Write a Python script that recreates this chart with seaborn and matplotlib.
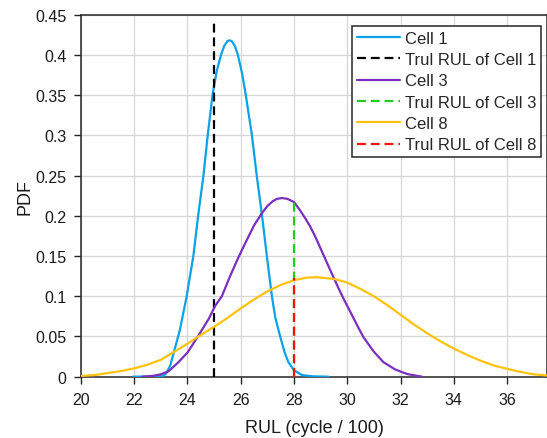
import numpy as np
import pandas as pd
import matplotlib
matplotlib.use("Agg")
import matplotlib.pyplot as plt
import seaborn as sns

# ---- data ----
cell1_x = [21.95, 22.5, 23.0, 23.1, 23.2, 23.35, 23.51, 23.72, 23.97, 24.22, 24.4, 24.6, 24.76,
           24.94, 25.1, 25.26, 25.38, 25.5, 25.58, 25.66, 25.78, 25.89, 26.05, 26.19, 26.42, 26.6, 26.8,
           26.98, 27.17, 27.3, 27.48, 27.65, 27.79, 28.0, 28.3, 28.7, 29.3]
cell1_y = [0.0, 0.0003, 0.0006, 0.001, 0.004, 0.0137, 0.033, 0.059, 0.10, 0.15, 0.20, 0.25, 0.30,
           0.35, 0.38, 0.40, 0.411, 0.417, 0.418, 0.417, 0.411, 0.40, 0.377, 0.35, 0.30, 0.25, 0.20,
           0.15, 0.10, 0.073, 0.05, 0.030, 0.018, 0.008, 0.002, 0.0005, 0.0]

cell3_x = [22.3, 22.7, 23.0, 23.3, 23.66, 24.0, 24.41, 24.8, 25.04, 25.29, 25.6, 25.91, 26.2,
           26.5, 26.79, 27.0, 27.2, 27.36, 27.55, 27.75, 28.0, 28.2, 28.42, 28.6, 28.8, 29.11, 29.3,
           29.49, 29.67, 29.86, 30.2, 30.4, 30.61, 31.0, 31.36, 31.8, 32.24, 32.8]
cell3_y = [0.0, 0.001, 0.003, 0.007, 0.018, 0.030, 0.051, 0.072, 0.088, 0.10, 0.125, 0.148, 0.168,
           0.188, 0.203, 0.212, 0.218, 0.221, 0.222, 0.221, 0.217, 0.208, 0.197, 0.187, 0.174, 0.151,
           0.137, 0.123, 0.110, 0.097, 0.075, 0.062, 0.049, 0.031, 0.018, 0.009, 0.0034, 0.0]

cell8_x = [20.0, 20.5, 21.0, 21.5, 22.0, 22.5, 23.0, 23.5, 24.0, 24.41, 25.0, 25.5, 26.0, 26.5,
           27.0, 27.5, 28.0, 28.5, 28.86, 29.5, 30.0, 30.5, 31.0, 31.5, 32.0, 32.5, 33.0, 33.5,
           34.0, 34.5, 35.0, 35.5, 36.0, 36.5, 37.0, 37.5]
cell8_y = [0.001, 0.002, 0.0045, 0.007, 0.0104, 0.015, 0.021, 0.031, 0.041, 0.050, 0.062, 0.073,
           0.085, 0.096, 0.106, 0.114, 0.120, 0.1232, 0.1236, 0.1215, 0.117, 0.109, 0.100, 0.089,
           0.077, 0.065, 0.054, 0.044, 0.035, 0.027, 0.020, 0.014, 0.0098, 0.006, 0.003, 0.0015]

true1_x = [25.0, 25.0]
true1_y = [0.0, 0.44]
true3_x = [28.0, 28.0]
true3_y = [0.0, 0.222]
true8_x = [28.0, 28.0]
true8_y = [0.0, 0.1225]

labels = ["Cell 1", "Trul RUL of Cell 1", "Cell 3", "Trul RUL of Cell 3",
          "Cell 8", "Trul RUL of Cell 8"]
xticks = [20, 22, 24, 26, 28, 30, 32, 34, 36]
yticks = [0, 0.05, 0.1, 0.15, 0.2, 0.25, 0.3, 0.35, 0.4, 0.45]
ytick_labels = ["0", "0.05", "0.1", "0.15", "0.2", "0.25", "0.3", "0.35", "0.4", "0.45"]

# ---- style ----
sns.set_theme(style="whitegrid")
plt.rcParams["font.family"] = ["Liberation Sans", "DejaVu Sans"]
plt.rcParams["axes.edgecolor"] = "#262626"
plt.rcParams["grid.color"] = "#D6D6D6"

fig = plt.figure(figsize=(5.47, 4.39), dpi=100)
ax = fig.add_axes([0.148, 0.1396, 0.852, 0.825])
ax.set_facecolor("white")

series = [
    (cell1_x, cell1_y, "#0BA3E6", "-", labels[0]),
    (true1_x, true1_y, "#000000", "--", labels[1]),
    (cell3_x, cell3_y, "#7B2FBF", "-", labels[2]),
    (true3_x, true3_y, "#1FCC1F", "--", labels[3]),
    (cell8_x, cell8_y, "#FFC20E", "-", labels[4]),
    (true8_x, true8_y, "#FF1010", "--", labels[5]),
]
for i, (xs, ys, col, ls, lab) in enumerate(series):
    df = pd.DataFrame({"x": xs, "y": ys})
    sns.lineplot(data=df, x="x", y="y", ax=ax, color=col, estimator=None,
                 sort=False, linewidth=1.6, label=lab, zorder=3 + i)
    l = ax.get_lines()[-1]
    l.set_solid_joinstyle("round")
    if ls == "--":
        l.set_dashes((4, 2.2))

ax.set_xlim(20, 37.5)
ax.set_ylim(0, 0.45)
ax.set_xticks(xticks)
ax.set_xticklabels([str(t) for t in xticks])
ax.set_yticks(yticks)
ax.set_yticklabels(ytick_labels)
ax.tick_params(axis="both", which="major", labelsize=11.5, direction="out",
               length=5, width=1, color="#262626", labelcolor="#1a1a1a",
               bottom=True, left=True, top=False, right=False)
ax.tick_params(axis="x", pad=6)
ax.tick_params(axis="y", pad=5.5)
ax.set_xlabel("RUL (cycle / 100)", fontsize=13, color="#1a1a1a", labelpad=9)
ax.set_ylabel("PDF", fontsize=13, color="#1a1a1a", labelpad=1)
ax.grid(True, color="#D6D6D6", linewidth=0.9)
for s in ax.spines.values():
    s.set_visible(True)
    s.set_color("#262626")
    s.set_linewidth(1.1)

handles = ax.get_lines()[:6]
leg = ax.legend(handles, labels, loc="upper right", bbox_to_anchor=(0.987, 0.969),
                borderaxespad=0, fontsize=12, frameon=True, fancybox=False,
                framealpha=1, edgecolor="#262626", handlelength=2.6, handletextpad=0.25,
                labelspacing=0.38, borderpad=0.3)
leg.get_frame().set_linewidth(1.1)

fig.savefig("out.png", dpi=100)
